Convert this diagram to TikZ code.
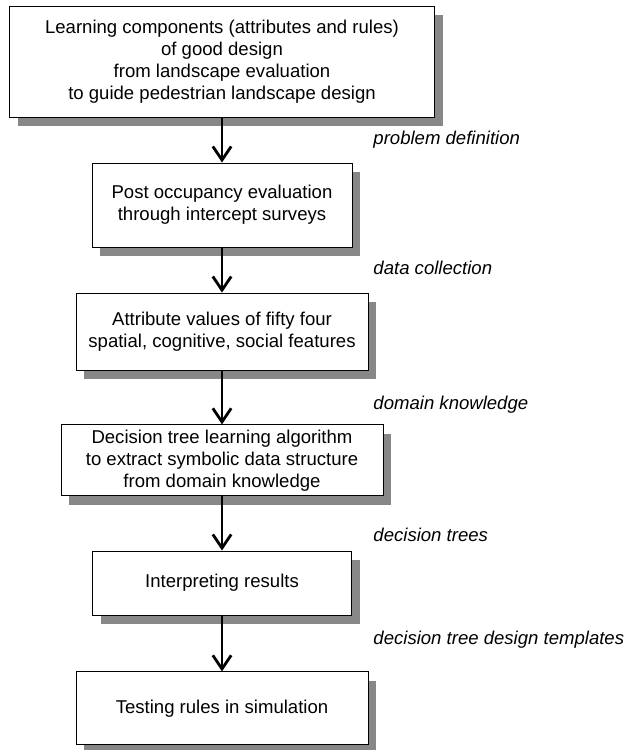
\documentclass[tikz,border=0pt]{standalone}
\usepackage{fontspec}
\setmainfont{Liberation Sans}
\usetikzlibrary{arrows.meta,shadows}

\begin{document}
\begin{tikzpicture}[
        stage/.style={draw, fill=white, line width=0.7pt, align=center, inner sep=0pt,
            font=\fontsize{13.2}{15.6}\selectfont,
            drop shadow={shadow xshift=0.21cm, shadow yshift=-0.23cm, fill=black!47, opacity=1}},
        flow/.style={line width=2pt, -{Straight Barb[length=3.4mm,width=4.6mm]}},
        phase/.style={anchor=west, inner sep=0pt, font=\fontsize{13.2}{15.6}\selectfont\itshape}
    ]
        \useasboundingbox (0,0) rectangle (16,18.75);

        %%%%%%%%%% Blocchi %%%%%%%%%%
        \node[stage, minimum width=10.625cm, minimum height=2.775cm] (goal) at (5.55,17.21)
            {Learning components (attributes and rules)\\of good design\\from landscape evaluation\\to guide pedestrian landscape design};
        \node[stage, minimum width=6.5cm, minimum height=2.1cm] (survey) at (5.55,13.625)
            {Post occupancy evaluation\\through intercept surveys};
        \node[stage, minimum width=7.3cm, minimum height=1.925cm] (values) at (5.55,10.46)
            {Attribute values of fifty four\\spatial, cognitive, social features};
        \node[stage, minimum width=8.05cm, minimum height=1.775cm] (learner) at (5.55,7.24)
            {Decision tree learning algorithm\\to extract symbolic data structure\\from domain knowledge};
        \node[stage, minimum width=6.475cm, minimum height=1.6cm] (results) at (5.55,4.175)
            {Interpreting results};
        \node[stage, minimum width=7.3cm, minimum height=1.825cm] (testing) at (5.55,1.04)
            {Testing rules in simulation};

        %%%%%%%%%% Frecce %%%%%%%%%%
        \draw[flow] (goal) -- (survey);
        \draw[flow] (survey) -- (values);
        \draw[flow] (values) -- (learner);
        \draw[flow] (learner) -- (results);
        \draw[flow] (results) -- (testing);

        %%%%%%%%%% Testo %%%%%%%%%%
        \node[phase] (definition) at (9.33,15.25) {problem definition};
        \node[phase] (collection) at (9.33,12.05) {data collection};
        \node[phase] (knowledge) at (9.33,8.63) {domain knowledge};
        \node[phase] (trees) at (9.33,5.38) {decision trees};
        \node[phase] (templates) at (9.33,2.75) {decision tree design templates};
    \end{tikzpicture}
\end{document}
